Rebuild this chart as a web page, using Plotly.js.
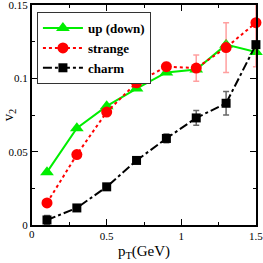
<!DOCTYPE html>
<html><head><meta charset="utf-8">
<script src="https://cdn.plot.ly/plotly-3.0.1.min.js"></script>
<style>html,body{margin:0;padding:0;background:#fff}#c{width:263px;height:263px}</style>
</head><body><div id="c"></div>
<script>
const pT = [0.1, 0.3, 0.5, 0.7, 0.9, 1.1, 1.3, 1.5];
const v2Up = [0.036, 0.066, 0.081, 0.093, 0.104, 0.106, 0.123, 0.118];
const v2Strange = [0.015, 0.048, 0.077, 0.097, 0.108, 0.107, 0.121, 0.138];
const errStrange = [0, 0, 0, 0, 0.003, 0.009, 0.017, 0.03];
const v2Charm = [0.0034, 0.0116, 0.026, 0.044, 0.059, 0.073, 0.083, 0.123];
const errCharm = [0.003, 0, 0, 0, 0.003, 0.005, 0.008, 0];
const names = ['up (down)', 'strange', 'charm'];
const xTicks = [0, 0.5, 1, 1.5];
const xTickText = ['0', '0.5', '1', '1.5'];
const yTicks = [0, 0.05, 0.1, 0.15];
const yTickText = ['0', '0.05', '0.1', '0.15'];

const serif = 'Liberation Serif, Times New Roman, serif';
const tickFont = {family: serif, size: 11, color: '#000'};
const traces = [
  {x: pT, y: v2Up, name: names[0], mode: 'lines+markers', type: 'scatter', cliponaxis: false,
   line: {color: '#00ee00', width: 2},
   marker: {symbol: 'triangle-up', size: 12, color: '#00ee00'}},
  {x: pT, y: v2Strange, name: names[1], mode: 'lines+markers', type: 'scatter', cliponaxis: false,
   line: {color: '#ff0000', width: 2, dash: 'dot'},
   marker: {symbol: 'circle', size: 11, color: '#ff0000'},
   error_y: {type: 'data', array: errStrange, visible: true, color: 'rgba(255,80,80,0.55)', thickness: 1.5, width: 3}},
  {x: pT, y: v2Charm, name: names[2], mode: 'lines+markers', type: 'scatter', cliponaxis: false,
   line: {color: '#000000', width: 2, dash: 'dashdot'},
   marker: {symbol: 'square', size: 9, color: '#000000'},
   error_y: {type: 'data', array: errCharm, visible: true, color: 'rgba(0,0,0,0.6)', thickness: 1.5, width: 3}}
];
const axisCommon = {
  showgrid: false, zeroline: false, showline: true, linecolor: '#000', linewidth: 2,
  mirror: 'ticks', ticks: 'inside', ticklen: 6, tickwidth: 1.5, tickcolor: '#000',
  ticklabeloverflow: 'allow',
  tickfont: tickFont
};
const layout = {
  width: 263, height: 263,
  margin: {l: 32, r: 7, t: 5, b: 38},
  paper_bgcolor: '#fff', plot_bgcolor: '#fff',
  showlegend: true,
  legend: {x: 0.022, y: 0.968, xanchor: 'left', yanchor: 'top',
    bordercolor: '#333', borderwidth: 1, bgcolor: '#fff',
    font: {family: serif, size: 13, color: '#000', weight: 'bold'},
    tracegroupgap: 0, itemwidth: 40},
  xaxis: Object.assign({}, axisCommon, {
    range: [-0.0004, 1.5004], tickvals: xTicks.slice(1), ticktext: xTickText.slice(1),
    minor: {tickvals: [0.25, 0.75, 1.25], ticklen: 3, ticks: 'inside', tickcolor: '#000', tickwidth: 1},
    title: {text: 'p<sub>T</sub>(GeV)', font: {family: serif, size: 15, color: '#000'}, standoff: 4}
  }),
  yaxis: Object.assign({}, axisCommon, {
    range: [-0.00004, 0.15004], tickvals: yTicks, ticktext: yTickText,
    minor: {tickvals: [0.025, 0.075, 0.125], ticklen: 3, ticks: 'inside', tickcolor: '#000', tickwidth: 1},
    title: {text: 'v<sub>2</sub>', font: {family: serif, size: 15, color: '#000'}, standoff: 2}
  }),
  annotations: [{
    xref: 'paper', yref: 'paper', x: 0, y: 0, yshift: -9, text: xTickText[0],
    showarrow: false, xanchor: 'center', yanchor: 'middle',
    font: {family: serif, size: 11, color: '#000'}
  }]
};
Plotly.newPlot('c', traces, layout, {staticPlot: true, displayModeBar: false});
</script></body></html>
